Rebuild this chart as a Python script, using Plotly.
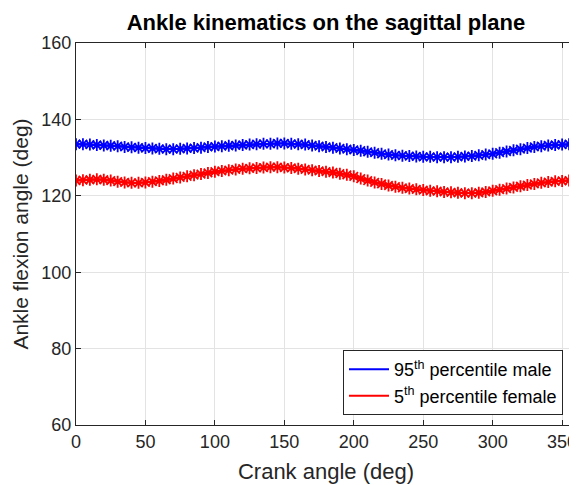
import plotly.graph_objects as go

# crank angle, every 5 deg over one revolution
crank_angle = list(range(0, 361, 5))

# ankle flexion angle (deg)
male_95 = [
    133.5, 133.5, 133.4, 133.3, 133.2, 133.1, 133.0, 132.8, 132.7, 132.6,
    132.5, 132.4, 132.3, 132.2, 132.2, 132.3, 132.4, 132.5, 132.6, 132.8,
    132.9, 133.0, 133.1, 133.2, 133.3, 133.4, 133.5, 133.6, 133.6, 133.7,
    133.7, 133.6, 133.5, 133.4, 133.2, 133.0, 132.8, 132.6, 132.4, 132.2,
    132.0, 131.8, 131.5, 131.3, 131.0, 130.8, 130.6, 130.5, 130.4, 130.3,
    130.2, 130.2, 130.1, 130.1, 130.1, 130.2, 130.3, 130.4, 130.6, 130.8,
    131.0, 131.3, 131.6, 131.9, 132.2, 132.5, 132.8, 133.0, 133.2, 133.3,
    133.4, 133.5, 133.5,
]
female_5 = [
    124.0, 124.1, 124.2, 124.3, 124.2, 124.0, 123.7, 123.5, 123.4, 123.4,
    123.5, 123.7, 123.9, 124.2, 124.5, 124.8, 125.1, 125.4, 125.7, 126.0,
    126.3, 126.5, 126.7, 126.9, 127.1, 127.2, 127.3, 127.4, 127.5, 127.5,
    127.4, 127.3, 127.1, 126.9, 126.7, 126.5, 126.3, 126.1, 125.8, 125.5,
    125.1, 124.5, 124.0, 123.5, 123.1, 122.7, 122.4, 122.1, 121.9, 121.7,
    121.5, 121.3, 121.2, 121.0, 120.9, 120.8, 120.7, 120.7, 120.8, 121.0,
    121.3, 121.6, 121.9, 122.2, 122.5, 122.8, 123.1, 123.4, 123.6, 123.8,
    123.9, 124.0, 124.1,
]

series = [
    ("95<sup>th</sup> percentile male", male_95, "#0000ff"),
    ("5<sup>th</sup> percentile female", female_5, "#ff0000"),
]

fig = go.Figure()

for name, values, colour in series:
    # data line with asterisk markers, kept out of the legend
    fig.add_trace(
        go.Scatter(
            x=crank_angle,
            y=values,
            mode="lines+markers",
            line=dict(color=colour, width=2),
            marker=dict(symbol="asterisk-open", size=10,
                        line=dict(color=colour, width=1.8)),
            showlegend=False,
        )
    )
    # legend entry: plain line only, as in the reference
    fig.add_trace(
        go.Scatter(
            x=[None],
            y=[None],
            mode="lines",
            line=dict(color=colour, width=2),
            name=name,
        )
    )

axis_common = dict(
    showline=True,
    linecolor="#262626",
    linewidth=1,
    mirror="ticks",
    ticks="inside",
    ticklen=5,
    tickcolor="#262626",
    showgrid=True,
    gridcolor="#e3e3e3",
    gridwidth=1,
    zeroline=False,
    automargin=False,
    ticklabeloverflow="allow",
    tickfont=dict(size=18, color="#262626"),
)

fig.update_xaxes(
    range=[0, 360],
    tick0=0,
    dtick=50,
    title=dict(text="Crank angle (deg)", font=dict(size=22, color="#262626"),
               standoff=13),
    **axis_common,
)
fig.update_yaxes(
    range=[60, 160],
    tick0=60,
    dtick=20,
    title=dict(text="Ankle flexion angle (deg)",
               font=dict(size=21, color="#262626"), standoff=7),
    **axis_common,
)

# the page body adds an 8px offset, so the figure is sized to fit the window
fig.update_layout(
    width=569,
    height=477,
    margin=dict(l=68, r=1, t=35, b=60),
    paper_bgcolor="white",
    plot_bgcolor="white",
    font=dict(family="Liberation Sans, Arial, sans-serif", color="#262626"),
    title=dict(
        text="<b>Ankle kinematics on the sagittal plane</b>",
        font=dict(size=22, color="black"),
        x=0.5,
        xanchor="center",
        xref="paper",
        y=1 - 14 / 477,
        yanchor="middle",
    ),
    legend=dict(
        x=0.974,
        y=0.026,
        xanchor="right",
        yanchor="bottom",
        bgcolor="white",
        bordercolor="#262626",
        borderwidth=1,
        font=dict(size=18, color="black"),
        itemwidth=40,
        tracegroupgap=2,
    ),
)

fig.write_html("out.html")
